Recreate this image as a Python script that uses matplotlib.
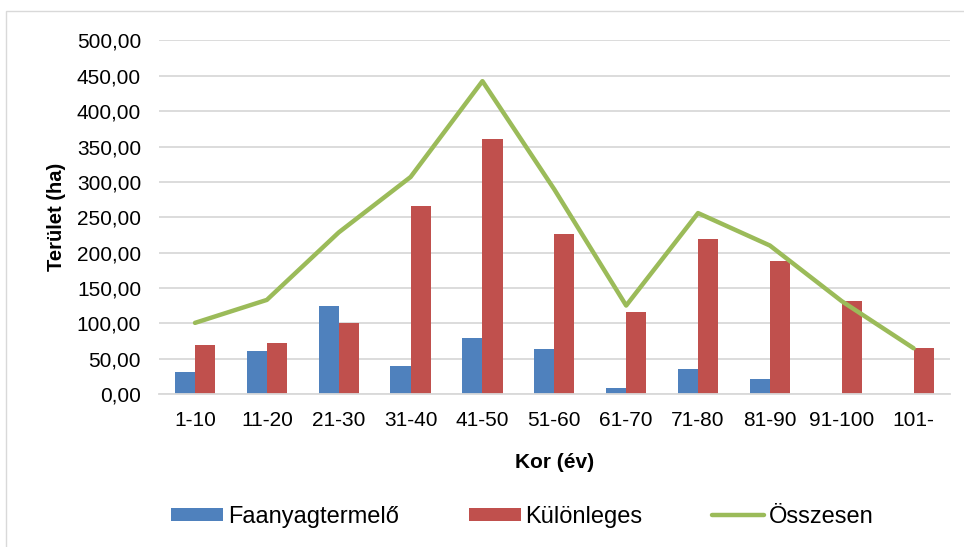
import matplotlib.pyplot as plt
import numpy as np
from matplotlib.patches import Rectangle

categories = ['1-10', '11-20', '21-30', '31-40', '41-50', '51-60',
              '61-70', '71-80', '81-90', '91-100', '101-']
faanyag = [30.7, 60.4, 125.1, 40.1, 79.8, 63.7, 8.5, 35.4, 21.2, 0, 0]
kulonleges = [69.4, 71.8, 101.0, 266.3, 361.2, 225.7, 116.6, 219.5, 187.9, 131.3, 64.7]
osszesen = [100.6, 133.1, 228.5, 306.9, 442.5, 289.4, 125.1, 255.9, 210.0, 131.3, 64.7]

plt.rcParams['font.family'] = ['Liberation Sans', 'DejaVu Sans']

fig = plt.figure(figsize=(9.64, 5.47), dpi=100)
ax = fig.add_axes([0.165, 0.2797, 0.82, 0.6463])

# light frame around the chart
fig.patches.append(Rectangle((0.006, -0.01), 1.2, 0.99, transform=fig.transFigure,
                             fill=False, edgecolor='#d9d9d9', linewidth=1))

x = np.arange(len(categories))
w = 0.28
b1 = ax.bar(x - w / 2, faanyag, width=w, color='#4f81bd', label='Faanyagtermelő', zorder=2)
b2 = ax.bar(x + w / 2, kulonleges, width=w, color='#c0504d', label='Különleges', zorder=2)
l1, = ax.plot(x, osszesen, color='#9bbb59', linewidth=3.2, label='Összesen', zorder=3,
              solid_capstyle='round')

ax.set_xlim(-0.5, len(categories) - 0.5)
ax.set_ylim(0, 500)
ax.set_yticks(np.arange(0, 501, 50))
ax.set_yticklabels([f'{v:.2f}'.replace('.', ',') for v in np.arange(0, 501, 50)])
ax.set_xticks(x)
ax.set_xticklabels(categories)
ax.tick_params(axis='both', length=0, labelsize=15, colors='black')
ax.tick_params(axis='x', pad=12)
ax.tick_params(axis='y', pad=13)
ax.grid(axis='y', color='#d9d9d9', linewidth=1.3, zorder=0)
for s in ['top', 'right', 'left']:
    ax.spines[s].set_visible(False)
ax.spines['bottom'].set_color('#d9d9d9')
ax.spines['bottom'].set_linewidth(1.3)

ax.set_xlabel('Kor (év)', fontsize=15, fontweight='bold', labelpad=17)
ax.set_ylabel('Terület (ha)', fontsize=14.5, fontweight='bold', labelpad=8)

fig.legend([b1, b2, l1], ['Faanyagtermelő', 'Különleges', 'Összesen'],
           loc='center', bbox_to_anchor=(0.542, 0.055), ncol=3, frameon=False,
           fontsize=17, handlelength=2.2, handleheight=0.52, columnspacing=2.95,
           handletextpad=0.2)

fig.savefig('out.png', dpi=100)
